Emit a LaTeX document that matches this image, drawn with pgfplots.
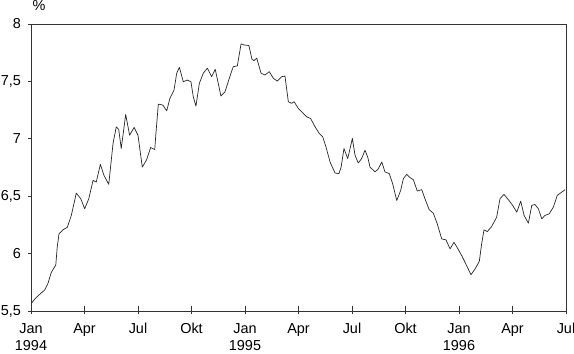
\documentclass[border=0pt]{standalone}
\usepackage{fontspec}
\setmainfont{Liberation Sans}
\usepackage{pgfplots}
\pgfplotsset{compat=1.18}
\begin{document}
\begin{tikzpicture}
\begin{axis}[
  name=ax,
  scale only axis, width=535bp, height=287bp,
  xmin=0, xmax=30, ymin=5.5, ymax=8,
  xtick={0,3,...,30},
  xticklabels={Jan\\1994,Apr,Jul,Okt,Jan\\1995,Apr,Jul,Okt,Jan\\1996,Apr,Jul},
  xticklabel style={align=center, font=\fontsize{14.5}{17.5}\selectfont, yshift=-6bp},
  ytick={5.5,6,6.5,7,7.5,8},
  yticklabels={{5,5},{6},{6,5},{7},{7,5},{8}},
  yticklabel style={font=\fontsize{14.5}{17}\selectfont, xshift=-3.5bp},
  tick pos=left,
  tick align=outside, major tick length=3bp,
  axis line style={black!80, line width=0.8bp},
  every tick/.style={black!80, line width=0.8bp},
  x tick style={/pgfplots/major tick length=8.5bp, yshift=5.5bp},
]
\addplot[black!85, line width=0.7bp, line join=round] coordinates {
(0.02,5.566)(0.21,5.604)(0.54,5.653)(0.77,5.683)(0.95,5.740)(1.14,5.837)
(1.39,5.901)(1.47,6.055)(1.57,6.172)(1.79,6.207)(2.04,6.230)(2.26,6.332)
(2.54,6.527)(2.79,6.478)(3.01,6.391)(3.24,6.478)(3.48,6.638)(3.66,6.623)
(3.89,6.778)(4.09,6.682)(4.36,6.603)(4.60,6.959)(4.78,7.104)(4.92,7.081)
(5.06,6.915)(5.31,7.212)(5.53,7.031)(5.78,7.099)(6.00,7.031)(6.24,6.754)
(6.47,6.813)(6.71,6.924)(6.94,6.906)(6.99,7.017)(7.14,7.302)(7.39,7.294)
(7.61,7.244)(7.79,7.352)(8.02,7.425)(8.17,7.571)(8.32,7.623)(8.54,7.497)
(8.76,7.512)(8.97,7.497)(9.10,7.366)(9.25,7.285)(9.44,7.483)(9.66,7.571)
(9.89,7.615)(10.13,7.541)(10.33,7.606)(10.50,7.483)(10.65,7.372)(10.88,7.410)
(11.12,7.527)(11.34,7.628)(11.57,7.635)(11.78,7.827)(11.94,7.818)(12.22,7.812)
(12.39,7.693)(12.50,7.681)(12.66,7.702)(12.90,7.571)(13.12,7.556)(13.36,7.585)
(13.59,7.527)(13.81,7.503)(14.06,7.541)(14.24,7.547)(14.43,7.323)(14.62,7.309)
(14.75,7.323)(14.99,7.265)(15.27,7.221)(15.46,7.191)(15.68,7.177)(15.93,7.104)
(16.17,7.046)(16.36,7.017)(16.54,6.929)(16.77,6.798)(17.05,6.702)(17.27,6.697)
(17.39,6.754)(17.55,6.915)(17.76,6.828)(17.89,6.915)(18.02,7.003)(18.17,6.857)
(18.35,6.789)(18.54,6.828)(18.73,6.900)(18.88,6.842)(19.01,6.754)(19.29,6.711)
(19.48,6.740)(19.67,6.798)(19.85,6.711)(20.09,6.697)(20.28,6.609)(20.51,6.463)
(20.73,6.551)(20.88,6.653)(21.07,6.691)(21.25,6.662)(21.44,6.644)(21.66,6.545)
(21.91,6.557)(22.09,6.478)(22.33,6.382)(22.56,6.352)(22.78,6.260)(23.03,6.128)
(23.27,6.120)(23.50,6.041)(23.72,6.099)(23.91,6.050)(24.15,5.983)(24.43,5.895)
(24.67,5.816)(24.90,5.866)(25.14,5.933)(25.27,6.085)(25.40,6.207)(25.59,6.192)
(25.83,6.236)(26.11,6.317)(26.30,6.478)(26.52,6.516)(26.77,6.469)(27.01,6.420)
(27.24,6.361)(27.46,6.457)(27.65,6.332)(27.89,6.265)(28.08,6.420)(28.26,6.428)
(28.45,6.391)(28.64,6.303)(28.82,6.332)(29.06,6.347)(29.29,6.405)(29.51,6.507)
(29.72,6.531)(29.95,6.557)
};
\end{axis}
\node[font=\fontsize{14.5}{17}\selectfont, anchor=center] at ([shift={(8bp,18bp)}]ax.north west) {\%};
\pgfresetboundingbox
\path[use as bounding box] ([shift={(-31bp,-43bp)}]ax.south west) rectangle ([shift={(543bp,311bp)}]ax.south west);
\end{tikzpicture}
\end{document}
